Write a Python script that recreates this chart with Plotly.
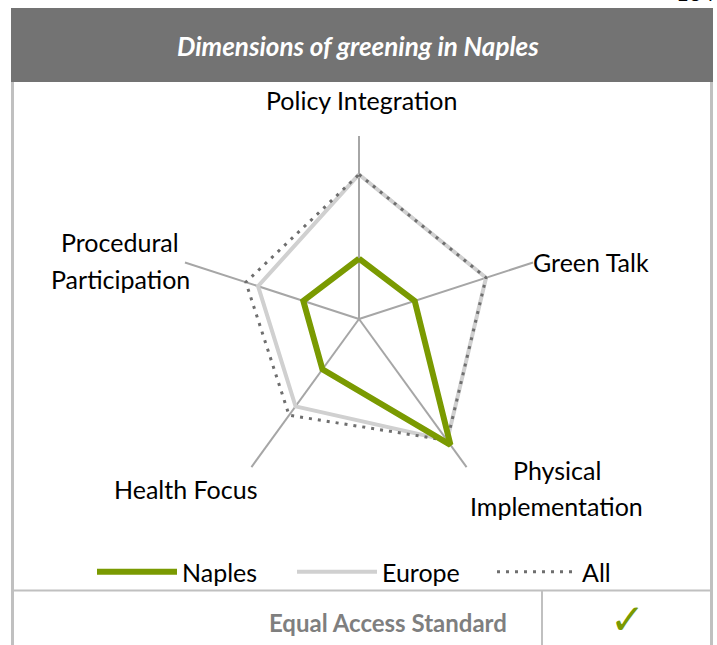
import plotly.graph_objects as go

W, H = 717, 645

# ---- data (fraction of axis maximum) ----
dimensions = ["Policy Integration", "Green Talk", "Physical Implementation",
              "Health Focus", "Procedural Participation"]
naples = [0.33, 0.32, 0.85, 0.34, 0.32]
europe = [0.79, 0.73, 0.82, 0.59, 0.58]
all_cities = [0.79, 0.73, 0.82, 0.65, 0.65]

GREEN = "#7a9a01"
FONT = "Lato"


def px(x):
    return x / W


def py(y):
    return 1 - y / H


def closed(v):
    return list(v) + [v[0]]


theta = closed(dimensions)

fig = go.Figure()
fig.add_trace(go.Scatterpolar(r=closed(europe), theta=theta, mode="lines", name="Europe",
                              line=dict(color="#d0d0d0", width=4), legendrank=2))
fig.add_trace(go.Scatterpolar(r=closed(all_cities), theta=theta, mode="lines", name="All",
                              line=dict(color="#6e6e6e", width=3, dash="3px,6px"), legendrank=3))
fig.add_trace(go.Scatterpolar(r=closed(naples), theta=theta, mode="lines", name="Naples",
                              line=dict(color=GREEN, width=6), legendrank=1))

cx, cy, R = 359, 319, 183
fig.update_layout(
    width=W, height=H,
    margin=dict(l=0, r=0, t=0, b=0),
    paper_bgcolor="white",
    font=dict(family=FONT, color="#000000"),
    polar=dict(
        domain=dict(x=[px(cx - R), px(cx + R)], y=[py(cy + R), py(cy - R)]),
        bgcolor="rgba(0,0,0,0)",
        radialaxis=dict(range=[0, 1], visible=False, showgrid=False),
        angularaxis=dict(rotation=90, direction="clockwise", showline=False,
                         showticklabels=False, ticks="", gridcolor="#a6a6a6",
                         gridwidth=1.5),
    ),
    legend=dict(orientation="h", x=px(92), xanchor="left", y=py(572), yanchor="middle",
                font=dict(size=25, family=FONT, color="#000000"), itemwidth=80,
                entrywidth=105, bgcolor="rgba(0,0,0,0)", traceorder="normal"),
    showlegend=True,
)

shapes = []
# title band
shapes.append(dict(type="rect", xref="paper", yref="paper", x0=px(11), x1=px(713),
                   y0=py(82), y1=py(8), fillcolor="#737373", line=dict(width=0), layer="below"))
# frame lines
frame_col = "#c0c0c0"
shapes.append(dict(type="line", xref="paper", yref="paper", x0=px(12.5), x1=px(12.5),
                   y0=py(82), y1=py(645), line=dict(color=frame_col, width=3)))
shapes.append(dict(type="line", xref="paper", yref="paper", x0=px(711.5), x1=px(711.5),
                   y0=py(82), y1=py(645), line=dict(color=frame_col, width=3)))
shapes.append(dict(type="line", xref="paper", yref="paper", x0=px(12), x1=px(712),
                   y0=py(590.5), y1=py(590.5), line=dict(color=frame_col, width=2)))
shapes.append(dict(type="line", xref="paper", yref="paper", x0=px(542), x1=px(542),
                   y0=py(591), y1=py(645), line=dict(color=frame_col, width=2)))
fig.update_layout(shapes=shapes)

ann = []


def label(text, x, y, size=25, color="#000000", bold=False, italic=False, family=FONT):
    ann.append(dict(text=("<b>%s</b>" % text) if bold else text, x=px(x), y=py(y),
                    xref="paper", yref="paper", showarrow=False, xanchor="center",
                    yanchor="middle",
                    font=dict(size=size, color=color, family=family,
                              style="italic" if italic else "normal")))


label("Dimensions of greening in Naples", 358, 46, size=26, color="white", bold=True, italic=True)
label("Policy Integration", 361, 100)
label("Green Talk", 591, 262)
label("Physical", 557, 470)
label("Implementation", 556, 506)
label("Health Focus", 185, 489)
label("Procedural", 120, 242)
label("Participation", 120, 279)
label("Equal Access Standard", 388, 622, size=24, color="#7f7f7f", bold=True)
label("<b>✓</b>", 627, 619, size=42, color=GREEN, family="DejaVu Sans")
ann.append(dict(text="164", x=px(717), y=py(8), xref="paper", yref="paper",
                showarrow=False, xanchor="right", yanchor="bottom",
                font=dict(size=22, color="#000000", family=FONT)))
fig.update_layout(annotations=ann)

fig.write_html("out.html", config={"displayModeBar": False},
               post_script="document.body.style.margin='0';")
